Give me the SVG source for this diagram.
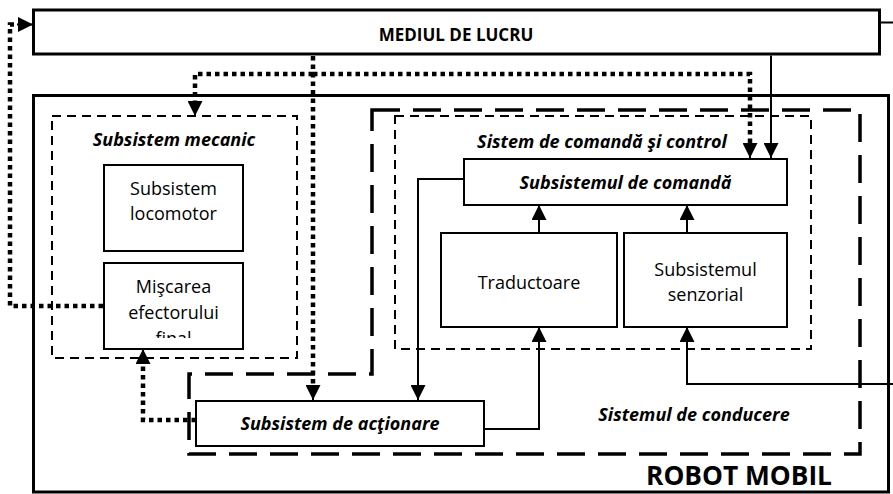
<svg xmlns="http://www.w3.org/2000/svg" width="893" height="494" viewBox="0 0 893 494">
<defs>
<style>
.box{fill:#fff;stroke:#000;stroke-width:2}
.big{fill:none;stroke:#000;stroke-width:3}
.dash{fill:none;stroke:#000;stroke-width:2;stroke-dasharray:9 6}
.ldash{fill:none;stroke:#000;stroke-width:3.5;stroke-dasharray:28 13}
.ln{fill:none;stroke:#000;stroke-width:2}
.dot{fill:none;stroke:#000;stroke-width:4.5;stroke-dasharray:4.5 4}
text{font-family:"Open Sans","Liberation Sans",sans-serif;fill:#000;text-anchor:middle}
.r{font-size:18px}
.bi{font-size:18px;font-weight:bold;font-style:italic}
.b{font-size:17px;font-weight:bold}
</style>
<marker id="ah" markerUnits="userSpaceOnUse" markerWidth="15" markerHeight="15" viewBox="0 0 15 15" refX="15" refY="7.5" orient="auto">
<path d="M0,0 L15,7.5 L0,15 Z" fill="#000"/>
</marker>
<clipPath id="clipMisc"><rect x="104" y="263" width="139" height="75"/></clipPath>
</defs>

<g id="robot-mobil">
<rect class="big" x="33.5" y="95.5" width="855" height="396.5"/>
<text x="739" y="485" style="font-size:26.3px;font-weight:bold">ROBOT MOBIL</text>
</g>

<g id="mediul-de-lucru">
<rect class="big" x="33.5" y="10" width="846" height="44"/>
<text class="b" x="456" y="41">MEDIUL DE LUCRU</text>
</g>

<g id="subsistem-mecanic">
<rect class="dash" x="52" y="116" width="245" height="242"/>
<text class="bi" x="174" y="146">Subsistem mecanic</text>
</g>

<g id="sistemul-de-conducere">
<path class="ldash" d="M372,110 H860 V454 H189 V374 H372 Z"/>
<text class="bi" x="694" y="421">Sistemul de conducere</text>
</g>

<g id="sistem-comanda-control">
<rect class="dash" x="395" y="116" width="416" height="233"/>
<text class="bi" x="602" y="148">Sistem de comandă şi control</text>
</g>

<g id="subsistem-locomotor">
<rect class="box" x="104" y="165" width="139" height="86"/>
<text class="r" x="173.5" y="195">Subsistem</text>
<text class="r" x="173.5" y="220">locomotor</text>
</g>

<g id="miscarea-efectorului">
<rect class="box" x="104" y="263" width="139" height="86"/>
<g clip-path="url(#clipMisc)">
<text class="r" x="173.5" y="293">Mişcarea</text>
<text class="r" x="173.5" y="319">efectorului</text>
<text class="r" x="173.5" y="345">final</text>
</g>
</g>

<g id="subsistemul-de-comanda">
<rect class="box" x="464" y="159" width="323" height="46"/>
<text class="bi" x="625.5" y="189">Subsistemul de comandă</text>
</g>

<g id="traductoare">
<rect class="box" x="441" y="233" width="176" height="94"/>
<text class="r" x="529" y="289">Traductoare</text>
</g>

<g id="subsistemul-senzorial">
<rect class="box" x="624" y="233" width="163" height="94"/>
<text class="r" x="705.5" y="276">Subsistemul</text>
<text class="r" x="705.5" y="301">senzorial</text>
</g>

<g id="subsistem-de-actionare">
<rect class="box" x="196" y="401" width="288" height="45"/>
<text class="bi" x="340" y="430">Subsistem de acţionare</text>
</g>

<g id="connectors">
<path class="dot" d="M103,306 H10 V24.5 H18"/>
<path class="ln" d="M17,24.5 H33" marker-end="url(#ah)"/>
<path class="dot" d="M313,56 V388"/>
<path class="ln" d="M313,385 V400" marker-end="url(#ah)"/>
<path class="dot" d="M313,74 H195 V104"/>
<path class="ln" d="M195,101 V116" marker-end="url(#ah)"/>
<path class="dot" d="M313,74 H750 V146"/>
<path class="ln" d="M750,143 V158" marker-end="url(#ah)"/>
<path class="dot" d="M196,420 H143 V362"/>
<path class="ln" d="M143,364 V349" marker-end="url(#ah)"/>
<path class="ln" d="M771,55.5 V158" marker-end="url(#ah)"/>
<path class="ln" d="M464,179 H418 V400" marker-end="url(#ah)"/>
<path class="ln" d="M539,233 V205" marker-end="url(#ah)"/>
<path class="ln" d="M687,233 V205" marker-end="url(#ah)"/>
<path class="ln" d="M484,429 H539 V327" marker-end="url(#ah)"/>
<path class="ln" d="M880,22.5 H900 V384 H687 V327" marker-end="url(#ah)"/>
</g>
</svg>
